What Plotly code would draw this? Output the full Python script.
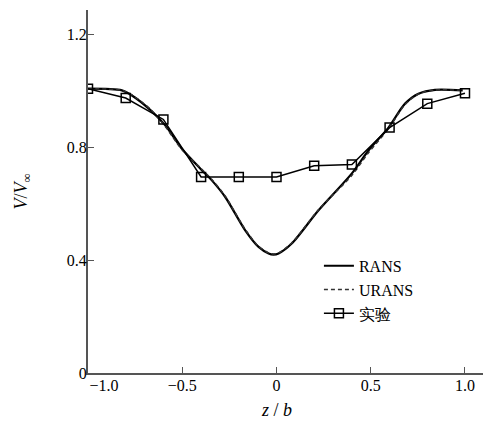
import plotly.graph_objects as go

# RANS curve
rans_z = [-1.0, -0.82, -0.767, -0.67, -0.59, -0.502, -0.396, -0.343, -0.272, -0.166, -0.095, -0.042, -0.016,
          0.011, 0.081, 0.223, 0.399, 0.488, 0.594, 0.682, 0.753, 0.841, 0.988]
rans_v = [1.008, 1.002, 0.984, 0.933, 0.878, 0.795, 0.719, 0.683, 0.624, 0.506, 0.447, 0.424, 0.420,
          0.424, 0.459, 0.577, 0.707, 0.789, 0.870, 0.955, 0.990, 1.004, 1.002]

# URANS curve (nearly identical)
urans_z = [-1.0, -0.82, -0.767, -0.67, -0.59, -0.502, -0.396, -0.343, -0.272, -0.166, -0.095, -0.042, -0.016,
           0.011, 0.081, 0.223, 0.399, 0.488, 0.594, 0.682, 0.753, 0.841, 0.988]
urans_v = [1.008, 1.002, 0.986, 0.936, 0.874, 0.792, 0.722, 0.686, 0.627, 0.509, 0.449, 0.426, 0.422,
           0.426, 0.461, 0.579, 0.700, 0.781, 0.866, 0.952, 0.989, 1.003, 1.002]

# Experiment
exp_z = [-1.0, -0.8, -0.6, -0.4, -0.2, 0.0, 0.2, 0.4, 0.6, 0.8, 1.0]
exp_v = [1.008, 0.975, 0.899, 0.695, 0.695, 0.695, 0.735, 0.739, 0.870, 0.955, 0.992]

x_ticks = [-1.0, -0.5, 0, 0.5, 1.0]
x_tick_text = ["\u00a0" * 8 + "\u22121.0", "\u22120.5", "0", "0.5", "1.0"]
y_ticks = [0, 0.4, 0.8, 1.2]
y_tick_text = ["0", "0.4", "0.8", "1.2"]

FONT = "Liberation Serif"

fig = go.Figure()
fig.add_trace(go.Scatter(x=rans_z, y=rans_v, mode="lines", name="RANS",
                         line=dict(color="black", width=2.2, shape="spline", smoothing=0.8)))
fig.add_trace(go.Scatter(x=urans_z, y=urans_v, mode="lines", name="URANS",
                         line=dict(color="#333333", width=1.5, dash="4px,3px", shape="spline", smoothing=0.8)))
fig.add_trace(go.Scatter(x=exp_z, y=exp_v, mode="lines+markers", name="实验",
                         line=dict(color="black", width=1.5),
                         marker=dict(symbol="square-open", size=9, color="black",
                                     line=dict(width=1.5, color="black"))))

fig.add_annotation(x=0, y=0, xref="x", yref="paper", yanchor="top", yshift=-25,
                   text="<i>z</i> / <i>b</i>", showarrow=False,
                   font=dict(family=FONT, size=18, color="black"))

fig.update_layout(
    width=483, height=416,
    margin=dict(l=80, r=0, t=2, b=51),
    paper_bgcolor="white", plot_bgcolor="white",
    font=dict(family=FONT, size=16, color="black"),
    showlegend=True,
    legend=dict(x=0.573, y=0.342, xanchor="left", yanchor="top",
                bgcolor="rgba(0,0,0,0)", font=dict(family=FONT, size=16),
                tracegroupgap=0, itemwidth=30),
    xaxis=dict(range=[-1.0, 1.138], tickvals=x_ticks, ticktext=x_tick_text,
               showgrid=False, zeroline=False, showline=True, linecolor="#555555", linewidth=2,
               ticks="inside", ticklen=6, tickcolor="#555555", tickwidth=1,
               ticklabelstandoff=-3),
    yaxis=dict(range=[0, 1.287], tickvals=y_ticks, ticktext=y_tick_text,
               showgrid=False, zeroline=False, showline=True, linecolor="#555555", linewidth=2,
               ticks="inside", ticklen=6, tickcolor="#555555", tickwidth=1,
               ticklabelstandoff=-4,
               title=dict(text="<i>V</i>/<i>V</i><sub>∞</sub>", font=dict(family=FONT, size=18), standoff=34)),
)

fig.write_html("out.html")
